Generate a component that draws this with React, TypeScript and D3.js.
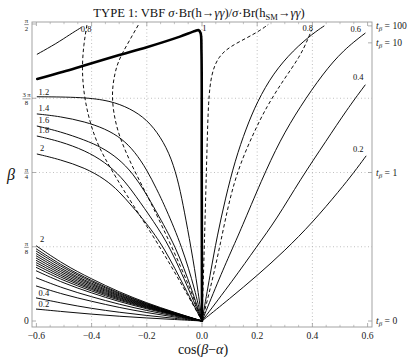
import React from "react";
import * as d3 from "d3";

type Pt = [number, number];

// ---------------- axis data ----------------
const xMajorTicks = [-0.6, -0.4, -0.2, 0, 0.2, 0.4, 0.6];
const xTickLabels = ["\u22120.6", "\u22120.4", "\u22120.2", "0.0", "0.2", "0.4", "0.6"];
const xMinorTicks = [-0.55, -0.5, -0.45, -0.35, -0.3, -0.25, -0.15, -0.1, -0.05, 0.05, 0.1, 0.15, 0.25, 0.3, 0.35, 0.45, 0.5, 0.55];
const xGrid = [-0.4, -0.2, 0, 0.2, 0.4];
const yTickEighths = [0, 1, 2, 3, 4]; // multiples of pi/8
const yTickNumerators = ["0", "\u03c0", "\u03c0", "3\u2009\u03c0", "\u03c0"];
const yTickDenominators = ["", "8", "4", "8", "2"];
const yGridEighths = [1, 2, 3];
const tanBetaTicks = [0, 1, 10, 100];
const tanBetaLabels = ["0", "1", "10", "100"];

// ---------------- contour data: [cos(beta-alpha), beta] ----------------
const contour1Thick: Pt[] = [[-0.597, 1.28], [-0.503, 1.318], [-0.43, 1.35], [-0.309, 1.403], [-0.2, 1.448], [-0.08, 1.504], [-0.025, 1.534], [-0.012, 1.538], [-0.005, 1.522], [-0.002, 1.43], [-0.001, 0.8], [0, 0]];
const contour08Left: Pt[] = [[-0.597, 1.411], [-0.526, 1.469], [-0.478, 1.516], [-0.438, 1.552]];
const contour12: Pt[] = [[-0.597, 1.186], [-0.43, 1.184], [-0.333, 1.165], [-0.261, 1.125], [-0.2, 1.066], [-0.15, 0.975], [-0.11, 0.86], [-0.083, 0.72], [-0.064, 0.58], [-0.04, 0.392], [-0.0145, 0.164], [0, 0]];
const contour14: Pt[] = [[-0.597, 1.095], [-0.514, 1.082], [-0.424, 1.054], [-0.351, 1.017], [-0.291, 0.966], [-0.243, 0.895], [-0.2, 0.8], [-0.165, 0.7], [-0.132, 0.6], [-0.072, 0.392], [-0.025, 0.164], [0, 0]];
const contour16: Pt[] = [[-0.597, 1.031], [-0.514, 1.002], [-0.424, 0.957], [-0.363, 0.918], [-0.303, 0.86], [-0.25, 0.78], [-0.205, 0.68], [-0.17, 0.59], [-0.094, 0.392], [-0.036, 0.164], [0, 0]];
const contour18: Pt[] = [[-0.597, 0.978], [-0.514, 0.95], [-0.424, 0.902], [-0.351, 0.84], [-0.291, 0.76], [-0.243, 0.668], [-0.174, 0.524], [-0.116, 0.392], [-0.047, 0.164], [0, 0]];
const contour20: Pt[] = [[-0.597, 0.883], [-0.514, 0.854], [-0.424, 0.81], [-0.351, 0.75], [-0.3, 0.685], [-0.255, 0.61], [-0.203, 0.52], [-0.138, 0.392], [-0.058, 0.164], [0, 0]];
const dashedLeftA: Pt[] = [[-0.417, 1.565], [-0.429, 1.46], [-0.435, 1.338], [-0.429, 1.211], [-0.413, 1.089], [-0.388, 0.968], [-0.356, 0.87], [-0.31, 0.755], [-0.262, 0.64], [-0.159, 0.41], [-0.062, 0.164], [0, 0]];
const dashedLeftB: Pt[] = [[-0.231, 1.565], [-0.272, 1.46], [-0.306, 1.37], [-0.321, 1.275], [-0.326, 1.195], [-0.321, 1.105], [-0.305, 1.0], [-0.279, 0.904], [-0.25, 0.81], [-0.215, 0.71], [-0.18, 0.61], [-0.109, 0.392], [-0.04, 0.164], [0, 0]];
const dashedRightA: Pt[] = [[0, 0], [0.007, 0.323], [0.013, 0.64], [0.018, 0.904], [0.023, 1.169], [0.034, 1.31], [0.059, 1.398], [0.101, 1.451], [0.162, 1.497], [0.21, 1.536], [0.24, 1.568]];
const dashedRightB: Pt[] = [[0, 0], [0.029, 0.164], [0.065, 0.393], [0.113, 0.746], [0.186, 0.993], [0.234, 1.133], [0.295, 1.275], [0.355, 1.398], [0.385, 1.495], [0.397, 1.539]];
const contour08Right: Pt[] = [[0, 0], [0.03, 0.25], [0.055, 0.45], [0.085, 0.65], [0.12, 0.85], [0.16, 1.02], [0.2, 1.16], [0.258, 1.31], [0.331, 1.433], [0.403, 1.522], [0.442, 1.56]];
const contour06: Pt[] = [[0, 0], [0.065, 0.234], [0.113, 0.393], [0.14, 0.481], [0.216, 0.746], [0.283, 0.957], [0.355, 1.133], [0.439, 1.31], [0.512, 1.433], [0.591, 1.522]];
const contour04: Pt[] = [[0, 0], [0.113, 0.217], [0.198, 0.393], [0.271, 0.54], [0.355, 0.746], [0.452, 0.957], [0.524, 1.116], [0.591, 1.248]];
const contour02: Pt[] = [[0, 0], [0.1, 0.118], [0.2, 0.24], [0.3, 0.372], [0.4, 0.52], [0.5, 0.693], [0.55, 0.785], [0.594, 0.872]];

// lower-left fan of contours, beta sampled at shared cos(beta-alpha) values
const fanX = [-0.6, -0.5, -0.4, -0.3, -0.2, -0.1, 0];
const fanBeta = [
  [0.397, 0.298, 0.222, 0.153, 0.095, 0.046, 0],
  [0.381, 0.286, 0.213, 0.147, 0.091, 0.044, 0],
  [0.369, 0.277, 0.207, 0.142, 0.089, 0.042, 0],
  [0.356, 0.267, 0.199, 0.137, 0.085, 0.041, 0],
  [0.344, 0.258, 0.193, 0.132, 0.083, 0.04, 0],
  [0.332, 0.249, 0.186, 0.128, 0.08, 0.038, 0],
  [0.32, 0.24, 0.179, 0.123, 0.077, 0.037, 0],
  [0.308, 0.231, 0.172, 0.119, 0.074, 0.035, 0],
  [0.296, 0.222, 0.166, 0.114, 0.071, 0.034, 0],
  [0.283, 0.212, 0.158, 0.109, 0.068, 0.033, 0],
  [0.265, 0.199, 0.148, 0.102, 0.064, 0.03, 0],
  [0.228, 0.171, 0.128, 0.088, 0.055, 0.026, 0],
  [0.185, 0.139, 0.104, 0.071, 0.044, 0.021, 0],
  [0.122, 0.092, 0.066, 0.046, 0.029, 0.014, 0],
  [0.063, 0.049, 0.036, 0.025, 0.016, 0.008, 0],
];

// contour value labels (text, cos(beta-alpha), beta)
const labelTexts = ["0.8", "1", "0.8", "0.6", "0.4", "0.2", "1.2", "1.4", "1.6", "1.8", "2", "2", "0.4", "0.2"];
const labelX = [-0.42, 0.009, 0.383, 0.557, 0.566, 0.566, -0.573, -0.573, -0.573, -0.573, -0.579, -0.579, -0.573, -0.573];
const labelBeta = [1.531, 1.535, 1.535, 1.531, 1.273, 0.892, 1.195, 1.113, 1.047, 0.994, 0.899, 0.416, 0.132, 0.074];

const solidCurves = [contour08Left, contour12, contour14, contour16, contour18, contour20, contour08Right, contour06, contour04, contour02];
const dashedCurves = [dashedLeftA, dashedLeftB, dashedRightA, dashedRightB];

const SERIF = "'Liberation Serif', 'Times New Roman', serif";

export default function App() {
  const W = 415;
  const H = 359;
  const x = d3.scaleLinear().domain([-0.6, 0.6]).range([36.4, 367.6]);
  const y = d3.scaleLinear().domain([0, Math.PI / 2]).range([321, 24]);
  const fL = 32, fR = 372, fT = 22, fB = 327;
  const smooth = d3
    .line<Pt>()
    .x((d) => x(d[0]))
    .y((d) => y(d[1]))
    .curve(d3.curveBasis);
  const exact = d3
    .line<Pt>()
    .x((d) => x(d[0]))
    .y((d) => y(d[1]))
    .curve(d3.curveCatmullRom.alpha(0.5));

  const frameColor = "#9a9a9a";
  const gridColor = "#b0b0b0";
  const textColor = "#222";

  return (
    <svg
      width={W}
      height={H}
      viewBox={`0 0 ${W} ${H}`}
      style={{ position: "absolute", left: 0, top: 0, background: "#fff" }}
      fontFamily={SERIF}
    >
      <rect x={0} y={0} width={W} height={H} fill="#fff" />
      {/* title */}
      <text x={199} y={17} fontSize={12.6} textAnchor="middle" fill="#111">
        <tspan>TYPE 1: VBF </tspan>
        <tspan fontStyle="italic">{"\u03c3"}</tspan>
        <tspan>{"\u00b7Br(h\u2192"}</tspan>
        <tspan fontStyle="italic">{"\u03b3\u03b3"}</tspan>
        <tspan>{")/"}</tspan>
        <tspan fontStyle="italic">{"\u03c3"}</tspan>
        <tspan>{"\u00b7Br(h"}</tspan>
        <tspan fontSize={8.5} dy={2.5}>SM</tspan>
        <tspan dy={-2.5}>{"\u2192"}</tspan>
        <tspan fontStyle="italic">{"\u03b3\u03b3"}</tspan>
        <tspan>{")"}</tspan>
      </text>

      {/* grid */}
      {xGrid.map((g) => (
        <line key={"gx" + g} x1={x(g)} x2={x(g)} y1={fT} y2={fB} stroke={gridColor} strokeWidth={0.8} strokeDasharray="1 2.5" />
      ))}
      {yGridEighths.map((k) => (
        <line key={"gy" + k} x1={fL} x2={fR} y1={y((k * Math.PI) / 8)} y2={y((k * Math.PI) / 8)} stroke={gridColor} strokeWidth={0.8} strokeDasharray="1 2.5" />
      ))}

      {/* contours */}
      <g fill="none" stroke="#000" strokeLinejoin="round" strokeLinecap="round">
        {fanBeta.map((bs, i) => (
          <path key={"fan" + i} d={smooth(bs.map((b, j) => [fanX[j], b] as Pt)) || ""} strokeWidth={0.95} />
        ))}
        {solidCurves.map((c, i) => (
          <path key={"s" + i} d={smooth(c) || ""} strokeWidth={0.95} />
        ))}
        {dashedCurves.map((c, i) => (
          <path key={"d" + i} d={smooth(c) || ""} strokeWidth={0.95} strokeDasharray="3.5 2.5" strokeLinecap="butt" />
        ))}
        <path d={exact(contour1Thick) || ""} strokeWidth={2.6} />
      </g>

      {/* contour labels */}
      {labelTexts.map((t, i) => (
        <text key={"lab" + i} x={x(labelX[i])} y={y(labelBeta[i])} fontSize={8.5} fill="#111" textAnchor="middle">
          {t}
        </text>
      ))}

      {/* frame */}
      <rect x={fL} y={fT} width={fR - fL} height={fB - fT} fill="none" stroke={frameColor} strokeWidth={0.9} />

      {/* x ticks */}
      {xMajorTicks.map((t) => (
        <g key={"xt" + t}>
          <line x1={x(t)} x2={x(t)} y1={fB} y2={fB - 4} stroke={frameColor} strokeWidth={0.8} />
          <line x1={x(t)} x2={x(t)} y1={fT} y2={fT + 4} stroke={frameColor} strokeWidth={0.8} />
        </g>
      ))}
      {xMinorTicks.map((t) => (
        <g key={"xm" + t}>
          <line x1={x(t)} x2={x(t)} y1={fB} y2={fB - 2.2} stroke={frameColor} strokeWidth={0.6} />
          <line x1={x(t)} x2={x(t)} y1={fT} y2={fT + 2.2} stroke={frameColor} strokeWidth={0.6} />
        </g>
      ))}
      {xMajorTicks.map((t, i) => (
        <text key={"xl" + t} x={x(t)} y={338.5} fontSize={9.6} textAnchor="middle" fill={textColor}>
          {xTickLabels[i]}
        </text>
      ))}

      {/* left y ticks */}
      {yTickEighths.map((k, i) => {
        const yy = y((k * Math.PI) / 8);
        return (
          <g key={"yt" + k}>
            <line x1={fL} x2={fL + 4} y1={yy} y2={yy} stroke={frameColor} strokeWidth={0.8} />
            {yTickDenominators[i] === "" ? (
              <text x={26.5} y={yy + 3.3} fontSize={9.6} textAnchor="middle" fill={textColor}>
                {yTickNumerators[i]}
              </text>
            ) : (
              <g>
                <text x={26.5} y={yy - 0.8} fontSize={6.8} textAnchor="middle" fill={textColor}>
                  {yTickNumerators[i]}
                </text>
                <line x1={k === 3 ? 22.5 : 24.3} x2={k === 3 ? 30.5 : 28.7} y1={yy + 0.6} y2={yy + 0.6} stroke={textColor} strokeWidth={0.5} />
                <text x={26.5} y={yy + 6.8} fontSize={6.8} textAnchor="middle" fill={textColor}>
                  {yTickDenominators[i]}
                </text>
              </g>
            )}
          </g>
        );
      })}

      {/* right tan(beta) ticks */}
      {tanBetaTicks.map((tb, i) => {
        const yy = y(Math.atan(tb));
        return (
          <g key={"tb" + tb}>
            <line x1={fR} x2={fR - 4} y1={yy} y2={yy} stroke={frameColor} strokeWidth={0.8} />
            <text x={376} y={yy + 3.3} fontSize={9.6} fill={textColor}>
              <tspan fontStyle="italic">t</tspan>
              <tspan fontStyle="italic" fontSize={7} dy={2}>{"\u03b2"}</tspan>
              <tspan dy={-2}>{" = " + tanBetaLabels[i]}</tspan>
            </text>
          </g>
        );
      })}

      {/* axis labels */}
      <text x={203} y={354} fontSize={14} textAnchor="middle" fill="#111">
        <tspan>cos(</tspan>
        <tspan fontStyle="italic">{"\u03b2"}</tspan>
        <tspan>{"\u2212"}</tspan>
        <tspan fontStyle="italic">{"\u03b1"}</tspan>
        <tspan>)</tspan>
      </text>
      <text x={11} y={180} fontSize={16} textAnchor="middle" fontStyle="italic" fill="#111">
        {"\u03b2"}
      </text>
    </svg>
  );
}
